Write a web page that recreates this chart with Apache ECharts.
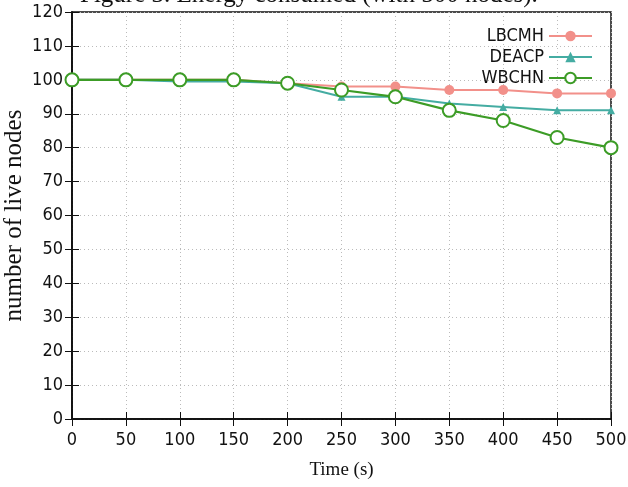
<!DOCTYPE html>
<html>
<head>
<meta charset="utf-8">
<script src="https://cdn.jsdelivr.net/npm/echarts@6/dist/echarts.min.js"></script>
<style>
  html, body { margin: 0; padding: 0; background: #fff; }
  #main { width: 628px; height: 487px; }
</style>
</head>
<body>
<div id="main"></div>
<script>
// data
var times = [0, 50, 100, 150, 200, 250, 300, 350, 400, 450, 500];
var lbcmh = [100, 100, 100, 100, 99, 98, 98, 97, 97, 96, 96];
var deacp = [100, 100, 99.5, 99.5, 99, 95, 95, 93, 92, 91, 91];
var wbchn = [100, 100, 100, 100, 99, 97, 95, 91, 88, 83, 80];

function pairs(ys) {
    return times.map(function (t, i) { return [t, ys[i]]; });
}

var tickFont = { fontFamily: 'DejaVu Sans Condensed, DejaVu Sans', fontSize: 18, color: '#111' };
var serif = 'Liberation Serif, DejaVu Serif, serif';

// gnuplot style mirrored ticks on top / right
function mirror(pos, max, step) {
    return {
        type: 'value', min: 0, max: max, interval: step, position: pos,
        axisLine: { show: true, lineStyle: { color: '#111', width: 1.5 } },
        axisTick: { inside: true, length: 7, lineStyle: { color: '#111' } },
        axisLabel: { show: false }, splitLine: { show: false }
    };
}

var myChart = echarts.init(document.getElementById('main'));
var option = {
    animation: false,
    backgroundColor: '#fff',
    title: {
        text: 'Figure 3. Energy consumed (with 500 nodes).',
        left: 75,
        top: -22,
        textStyle: { fontFamily: serif, fontSize: 25, fontWeight: 'normal', color: '#111' }
    },
    legend: {
        orient: 'vertical',
        right: 30,
        top: 22,
        align: 'right',
        itemWidth: 43,
        itemHeight: 13,
        itemGap: 3,
        textStyle: Object.assign({ lineHeight: 18 }, tickFont),
        data: ['LBCMH', 'DEACP', 'WBCHN']
    },
    grid: {
        left: 72, right: 17, top: 12, bottom: 68,
        containLabel: false, outerBoundsMode: 'none',
        show: true, borderColor: '#111', borderWidth: 1.5
    },
    xAxis: [{
        type: 'value', min: 0, max: 500, interval: 50,
        name: 'Time (s)', nameLocation: 'middle', nameGap: 42, nameMoveOverlap: false,
        nameTextStyle: { fontFamily: serif, fontSize: 19, color: '#111' },
        axisLine: { show: true, lineStyle: { color: '#111', width: 1.5 } },
        axisTick: { inside: true, length: 7, lineStyle: { color: '#111' } },
        axisLabel: Object.assign({ margin: 12 }, tickFont),
        splitLine: { show: true, lineStyle: { color: '#bbb', type: [1, 3] } }
    }, mirror('top', 500, 50)],
    yAxis: [{
        type: 'value', min: 0, max: 120, interval: 10,
        name: 'number of live nodes', nameLocation: 'middle', nameGap: 45, nameMoveOverlap: false,
        nameTextStyle: { fontFamily: serif, fontSize: 25, color: '#111' },
        axisLine: { show: true, lineStyle: { color: '#111', width: 1.5 } },
        axisTick: { inside: true, length: 7, lineStyle: { color: '#111' } },
        axisLabel: Object.assign({ margin: 9 }, tickFont),
        splitLine: { show: true, lineStyle: { color: '#bbb', type: [1, 3] } }
    }, mirror('right', 120, 10)],
    series: [{
        name: 'LBCMH', type: 'line', data: pairs(lbcmh),
        color: '#f2908a',
        symbol: 'circle', symbolSize: 10,
        lineStyle: { width: 2 },
        itemStyle: { color: '#f2908a' }
    }, {
        name: 'DEACP', type: 'line', data: pairs(deacp),
        color: '#44aca2',
        symbol: 'triangle', symbolSize: 8,
        lineStyle: { width: 2 },
        itemStyle: { color: '#44aca2' }
    }, {
        name: 'WBCHN', type: 'line', data: pairs(wbchn),
        color: '#3c9c26',
        symbol: 'emptyCircle', symbolSize: 13,
        lineStyle: { width: 2.2 },
        itemStyle: { color: '#3c9c26', borderWidth: 2 }
    }]
};
myChart.setOption(option);
</script>
</body>
</html>
